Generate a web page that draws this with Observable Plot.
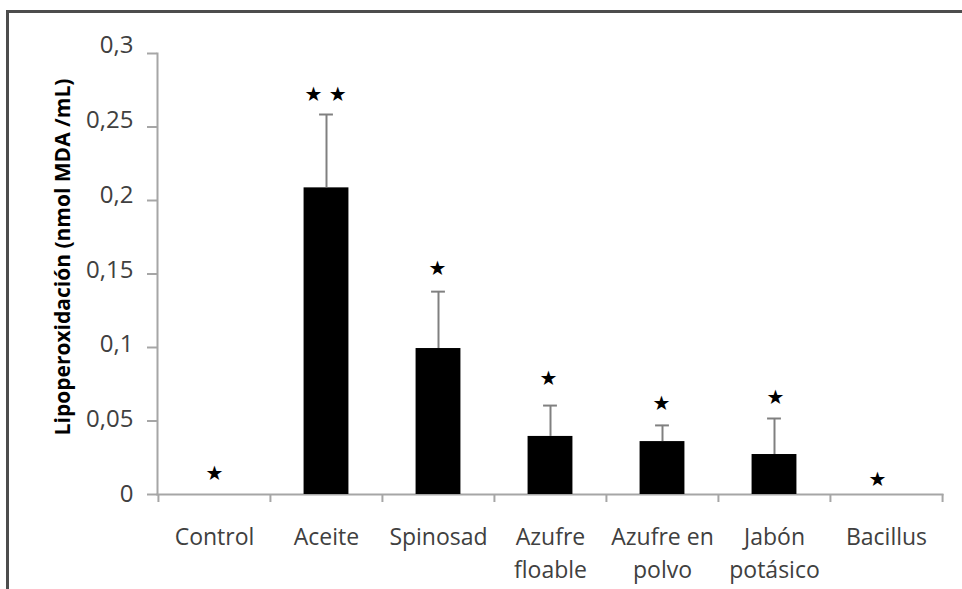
<!DOCTYPE html>
<html><head><meta charset="utf-8">
<script src="https://cdn.jsdelivr.net/npm/d3@7"></script>
<script src="https://cdn.jsdelivr.net/npm/@observablehq/plot@0.6"></script>
<style>
body{margin:0;background:#fff;overflow:hidden;}
#wrap{position:relative;width:962px;height:589px;overflow:hidden;}
#frame{position:absolute;left:6px;top:10px;width:1000px;height:700px;border-left:3px solid #4d4d4d;border-top:3px solid #4d4d4d;}
#chart{position:absolute;left:0;top:0;}
</style></head>
<body><div id="wrap"><div id="frame"></div><div id="chart"></div></div>
<script>
const categories = ["Control","Aceite","Spinosad","Azufre\nfloable","Azufre en\npolvo","Jabón\npotásico","Bacillus"];
const means = [0, 0.2086, 0.0993, 0.0395, 0.036, 0.0272, 0];
const errors = [0, 0.0499, 0.0387, 0.021, 0.011, 0.0245, 0];
const starLabels = ["★","★ ★","★","★","★","★","★"];
const starY = [0.0143, 0.272, 0.154, 0.079, 0.062, 0.066, 0.0102];
const starShift = [0, -1, -1, -2, -1, 1, -9];
const yTicks = [0, 0.05, 0.1, 0.15, 0.2, 0.25, 0.3];
const yTitle = "Lipoperoxidación (nmol MDA /mL)";

const data = categories.map((c,i)=>({cat:c, v:means[i], e:errors[i], top:means[i]+errors[i], s:starLabels[i], sy:starY[i]}));
const withErr = data.filter(d=>d.e>0);
const W=962,H=589,mL=157,mR=20,mT=53,mB=95;
const bw=(W-mL-mR)/categories.length;
const grey="#a6a6a6";

const yLabelAxes = yTicks.map(v => Plot.axisY([v], {tickFormat:d=>String(d).replace(".",","), tickSize:0, tickPadding:24,
  fontSize:24, fill:"#404040", dy:-v*27, label:null}));

const starMarks = data.map((d,i) => Plot.text([d], {x:"cat", y:"sy", text:"s", dx:starShift[i], fontSize:20, fill:"#000",
  fontFamily:"DejaVu Sans"}));

const plot = Plot.plot({
  width:W, height:H, marginLeft:mL, marginRight:mR, marginTop:mT, marginBottom:mB,
  style:{fontFamily:"'Open Sans', sans-serif", background:"transparent"},
  x:{domain:categories, padding:0},
  y:{domain:[0,0.3]},
  marks:[
    Plot.frame({anchor:"left", stroke:grey, strokeWidth:2}),
    Plot.frame({anchor:"bottom", stroke:grey, strokeWidth:2}),
    Plot.axisY({ticks:yTicks, tickFormat:()=>"", tickSize:10, stroke:grey, strokeWidth:2, label:null}),
    Plot.ruleX(data, {x:"cat", y1:0, y2:0, dx:-bw/2, insetBottom:-8, stroke:grey, strokeWidth:2}),
    Plot.ruleX(data.slice(-1), {x:"cat", y1:0, y2:0, dx:bw/2, insetBottom:-8, stroke:grey, strokeWidth:2}),
    Plot.barY(data, {x:"cat", y:"v", fill:"#000", insetLeft:(bw-45)/2, insetRight:(bw-45)/2}),
    Plot.ruleX(withErr, {x:"cat", y1:"v", y2:"top", stroke:"#808080", strokeWidth:2}),
    Plot.tickY(withErr, {x:"cat", y:"top", stroke:"#808080", strokeWidth:2, inset:(bw-14)/2}),
    ...starMarks,
    ...yLabelAxes,
    Plot.text([yTitle], {frameAnchor:"left", rotate:-90, dx:-94, dy:-17, fontSize:21, fontWeight:"bold", fill:"#000", textAnchor:"middle"}),
    Plot.axisX({tickSize:0, tickPadding:27, fontSize:23, color:"#404040", label:null, lineHeight:1.43})
  ]
});
document.getElementById("chart").appendChild(plot);
</script></body></html>
